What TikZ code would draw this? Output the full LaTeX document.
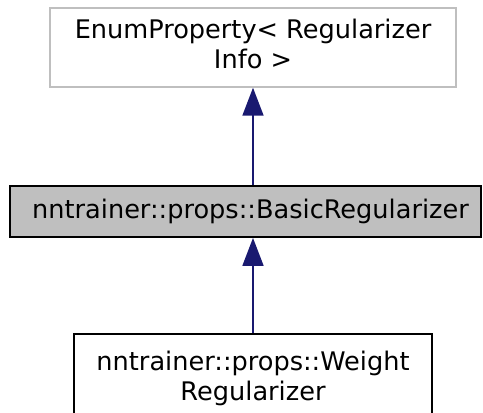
\documentclass[tikz,border=0pt]{standalone}
\usepackage{fontspec}
\setmainfont{DejaVu Sans}
\usetikzlibrary{arrows.meta}
\definecolor{edgeblue}{HTML}{191970}
\definecolor{boxgray}{HTML}{BFBFBF}
\tikzset{
  classbox/.style={draw=black, line width=1.8bp, fill=white, align=center,
    inner sep=0pt, font=\fontsize{25.6bp}{30bp}\selectfont},
  basebox/.style={classbox, draw=boxgray, line width=1.4bp},
  curbox/.style={classbox, fill=boxgray},
  inherit/.style={draw=edgeblue, line width=1.8bp,
    {Triangle[length=28bp,width=21bp,fill=edgeblue]}-}
}
\begin{document}
\begin{tikzpicture}[x=1bp,y=-1bp]
\useasboundingbox (0,0) rectangle (483,412);
\clip (0,0) rectangle (483,412);
\node[basebox, minimum width=406bp, minimum height=79bp] (base) at (253,47.5)
  {\raisebox{-1bp}{\begin{tabular}{@{}c@{}}EnumProperty< Regularizer\\Info >\end{tabular}}};
\node[curbox, minimum width=471bp, minimum height=51bp] (cur) at (245.5,211.5)
  {\hspace{10bp}nntrainer::props::BasicRegularizer};
\node[classbox, minimum width=358bp, minimum height=90bp] (der) at (253,379)
  {\raisebox{6.5bp}{\begin{tabular}{@{}c@{}}nntrainer::props::Weight\\Regularizer\end{tabular}}};
\draw[inherit] (base.south) -- (cur.north -| base.south);
\draw[inherit] (cur.south -| der.north) -- (der.north);
\end{tikzpicture}
\end{document}
